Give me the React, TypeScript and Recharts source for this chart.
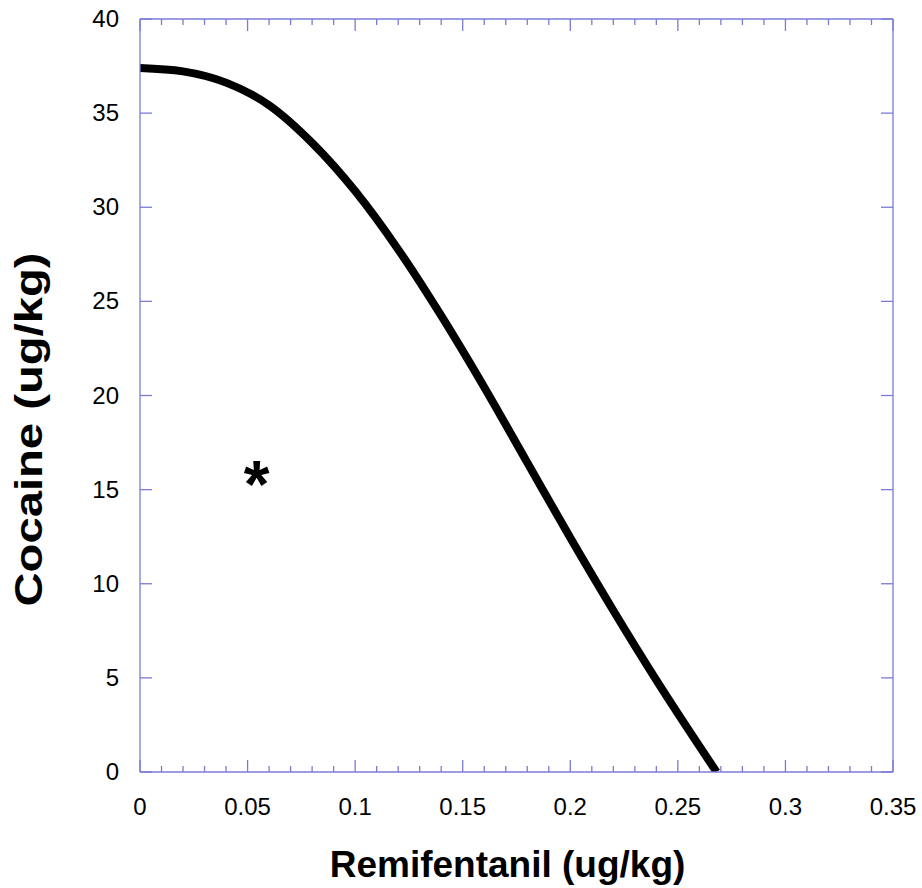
import React from 'react';
import { ComposedChart, Line, Scatter, XAxis, YAxis } from 'recharts';

// isobologram curve
const remiValues = [0, 0.02, 0.04, 0.06, 0.08, 0.1, 0.12, 0.14, 0.16, 0.18, 0.2, 0.22, 0.24, 0.268];
const cocaineValues = [37.4, 37.22, 36.62, 35.42, 33.42, 30.86, 27.76, 24.24, 20.44, 16.44, 12.44, 8.58, 4.88, 0];

// the asterisk point
const markRemi = [0.0542];
const markCocaine = [15.8];

const xTicks = [0, 0.01, 0.02, 0.03, 0.04, 0.05, 0.06, 0.07, 0.08, 0.09, 0.1, 0.11, 0.12, 0.13, 0.14, 0.15, 0.16, 0.17, 0.18, 0.19, 0.2, 0.21, 0.22, 0.23, 0.24, 0.25, 0.26, 0.27, 0.28, 0.29, 0.3, 0.31, 0.32, 0.33, 0.34, 0.35];
const xMajorLabels = ['0', '0.05', '0.1', '0.15', '0.2', '0.25', '0.3', '0.35'];
const yTicks = [0, 5, 10, 15, 20, 25, 30, 35, 40];

const AXIS = '#7b7bd6';
const FONT = '"Liberation Sans", Arial, Helvetica, sans-serif';

const curveData = remiValues.map((r, i) => ({ remi: r, cocaine: cocaineValues[i] }));
const markData = markRemi.map((r, i) => ({ remi: r, cocaine: markCocaine[i] }));

const majorIndex = (v: number) => {
  const idx = Math.round(v / 0.05);
  return Math.abs(v - idx * 0.05) < 1e-6 ? idx : -1;
};

const BottomTick = (props: any) => {
  const { x, y, payload } = props;
  const idx = majorIndex(payload.value);
  return (
    <g>
      <line x1={x} y1={y} x2={x} y2={y - (idx >= 0 ? 12 : 6)} stroke={AXIS} strokeWidth={1.3} />
      {idx >= 0 && (
        <text x={x} y={y + 43} textAnchor="middle" fontSize={24} fontFamily={FONT} fill="#000">
          {xMajorLabels[idx]}
        </text>
      )}
    </g>
  );
};

const TopTick = (props: any) => {
  const { x, y, payload } = props;
  const idx = majorIndex(payload.value);
  return <line x1={x} y1={y} x2={x} y2={y + (idx >= 0 ? 12 : 6)} stroke={AXIS} strokeWidth={1.3} />;
};

const LeftTick = (props: any) => {
  const { x, y, payload } = props;
  return (
    <g>
      <line x1={x} y1={y} x2={x + 12} y2={y} stroke={AXIS} strokeWidth={1.3} />
      <text x={x - 21} y={y + 8} textAnchor="end" fontSize={24} fontFamily={FONT} fill="#000">
        {payload.value}
      </text>
    </g>
  );
};

const RightTick = (props: any) => {
  const { x, y } = props;
  return <line x1={x} y1={y} x2={x - 12} y2={y} stroke={AXIS} strokeWidth={1.3} />;
};

const XTitle = (props: any) => {
  const { viewBox } = props;
  return (
    <text x={viewBox.x + viewBox.width / 2 - 9} y={viewBox.y + 105} textAnchor="middle"
      fontSize={37} fontWeight="bold" fontFamily={FONT} fill="#000">
      Remifentanil (ug/kg)
    </text>
  );
};

const YTitle = (props: any) => {
  const { viewBox } = props;
  const cx = viewBox.x + 42;
  const cy = viewBox.y + viewBox.height / 2 + 34;
  return (
    <text x={cx} y={cy} transform={`rotate(-90 ${cx} ${cy})`} textAnchor="middle"
      fontSize={38} fontWeight="bold" fontFamily={FONT} fill="#000"
      textLength={354} lengthAdjust="spacingAndGlyphs">
      Cocaine (ug/kg)
    </text>
  );
};

const Asterisk = (props: any) => {
  const { cx, cy } = props;
  return (
    <text x={cx} y={cy + 32} textAnchor="middle" fontSize={66} fontWeight="bold" fontFamily={FONT} fill="#000">
      *
    </text>
  );
};

const App = () => {
  return (
    <div style={{ position: 'absolute', left: 0, top: 0, width: 922, height: 888, background: '#fff' }}>
      <ComposedChart width={922} height={888} data={curveData} margin={{ top: 18, right: 28, bottom: 0, left: 0 }}>
        <XAxis xAxisId="bottom" dataKey="remi" type="number" domain={[0, 0.35]} ticks={xTicks} interval={0}
          height={116} tickSize={0} tickMargin={0} tickLine={false} tick={<BottomTick />}
          axisLine={{ stroke: AXIS, strokeWidth: 1.3 }} allowDataOverflow label={<XTitle />} />
        <XAxis xAxisId="top" orientation="top" dataKey="remi" type="number" domain={[0, 0.35]} ticks={xTicks} interval={0}
          height={1} tickSize={0} tickMargin={0} tickLine={false} tick={<TopTick />}
          axisLine={{ stroke: AXIS, strokeWidth: 1.3 }} allowDataOverflow />
        <YAxis yAxisId="left" type="number" domain={[0, 40]} ticks={yTicks} interval={0}
          width={140} tickSize={0} tickMargin={0} tickLine={false} tick={<LeftTick />}
          axisLine={{ stroke: AXIS, strokeWidth: 1.3 }} allowDataOverflow label={<YTitle />} />
        <YAxis yAxisId="right" orientation="right" type="number" domain={[0, 40]} ticks={yTicks} interval={0}
          width={1} tickSize={0} tickMargin={0} tickLine={false} tick={<RightTick />}
          axisLine={{ stroke: AXIS, strokeWidth: 1.3 }} allowDataOverflow />
        {/* invisible copy so the frame axes on top/right get drawn */}
        <Line xAxisId="top" yAxisId="right" type="monotone" dataKey="cocaine" stroke="transparent" strokeWidth={0}
          dot={false} activeDot={false} isAnimationActive={false} legendType="none" />
        <Line xAxisId="bottom" yAxisId="left" type="monotone" dataKey="cocaine" stroke="#000" strokeWidth={8}
          dot={false} activeDot={false} isAnimationActive={false} />
        <Scatter xAxisId="bottom" yAxisId="left" data={markData} dataKey="cocaine" shape={<Asterisk />}
          isAnimationActive={false} />
      </ComposedChart>
    </div>
  );
};

export default App;
